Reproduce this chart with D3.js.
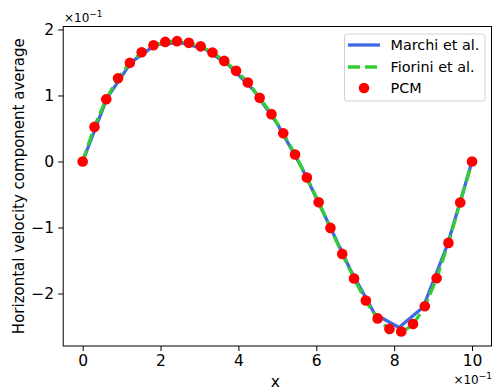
<!DOCTYPE html>
<html>
<head>
<meta charset="utf-8">
<script src="https://cdn.jsdelivr.net/npm/d3@7"></script>
<style>
  body { margin: 0; background: #fff; }
  svg { display: block; font-family: "DejaVu Sans", sans-serif; }
</style>
</head>
<body>
<script>
// PCM samples, x = i/33 (values in units of the axis, i.e. already x1)
const pcmX = d3.range(34).map(i => i / 33);
const pcmY = [0, 0.0524, 0.0944, 0.1262, 0.1494, 0.1656, 0.1762, 0.1812, 0.1823, 0.1797,
  0.1744, 0.1652, 0.1524, 0.1373, 0.1197, 0.0964, 0.0717, 0.0429, 0.0106, -0.0242,
  -0.0617, -0.1006, -0.1400, -0.1773, -0.2106, -0.2377, -0.2536, -0.2576, -0.2461, -0.2192,
  -0.1768, -0.1233, -0.0621, 0];

// Marchi et al. (coarser grid, 1/16)
const marchiX = d3.range(17).map(k => k / 16);
const marchiY = [0, 0.0960, 0.1505, 0.1770, 0.1800, 0.1710, 0.1460, 0.1090, 0.0570,
  -0.0090, -0.0860, -0.1640, -0.2310, -0.2515, -0.2203, -0.1250, 0];

// Fiorini et al.
const fioriniX = pcmX;
const fioriniY = [0, 0.0530, 0.0950, 0.1265, 0.1495, 0.1655, 0.1760, 0.1810, 0.1822, 0.1797,
  0.1745, 0.1653, 0.1525, 0.1375, 0.1198, 0.0966, 0.0718, 0.0430, 0.0106, -0.0242,
  -0.0617, -0.1006, -0.1400, -0.1775, -0.2110, -0.2385, -0.2545, -0.2590, -0.2470, -0.2200,
  -0.1770, -0.1233, -0.0621, 0];

const xTicks = [0, 0.2, 0.4, 0.6, 0.8, 1.0];
const xTickLabels = ["0", "2", "4", "6", "8", "10"];
const yTicks = [-0.2, -0.1, 0, 0.1, 0.2];
const yTickLabels = ["\u22122", "\u22121", "0", "1", "2"];

const W = 492, H = 392;
const m = { left: 63.2, right: 491.5, top: 26.5, bottom: 346 };

const svg = d3.select("body").append("svg")
  .attr("width", W).attr("height", H);

const x = d3.scaleLinear().domain([-0.05, 1.05]).range([m.left, m.right]);
const y = d3.scaleLinear().domain([-0.2795, 0.2045]).range([m.bottom, m.top]);

// clip for plot area
svg.append("clipPath").attr("id", "clip")
  .append("rect").attr("x", m.left).attr("y", m.top)
  .attr("width", m.right - m.left).attr("height", m.bottom - m.top);

const plot = svg.append("g").attr("clip-path", "url(#clip)");

const line = d3.line().x(d => x(d[0])).y(d => y(d[1]));

plot.append("path")
  .datum(d3.zip(marchiX, marchiY))
  .attr("d", line)
  .attr("fill", "none")
  .attr("stroke", "#4169e1")
  .attr("stroke-width", 3.3)
  .attr("stroke-linejoin", "round");

plot.append("path")
  .datum(d3.zip(fioriniX, fioriniY))
  .attr("d", line)
  .attr("fill", "none")
  .attr("stroke", "#32cd32")
  .attr("stroke-width", 3.3)
  .attr("stroke-dasharray", "12,5");

svg.selectAll(".pcm")
  .data(d3.zip(pcmX, pcmY))
  .enter().append("circle")
  .attr("class", "pcm")
  .attr("cx", d => x(d[0]))
  .attr("cy", d => y(d[1]))
  .attr("r", 5.3)
  .attr("fill", "#ff0000");

// frame
svg.append("rect")
  .attr("x", m.left).attr("y", m.top)
  .attr("width", m.right - m.left).attr("height", m.bottom - m.top)
  .attr("fill", "none").attr("stroke", "#000").attr("stroke-width", 1);

// axes
const xAxis = d3.axisBottom(x).tickValues(xTicks)
  .tickFormat((d, i) => xTickLabels[i]).tickSize(5).tickPadding(4);
const gx = svg.append("g").attr("transform", `translate(0,${m.bottom})`).call(xAxis);
gx.select(".domain").remove();
gx.selectAll("text").attr("font-size", 15.5).attr("fill", "#000")
  .attr("font-family", "DejaVu Sans");

const yAxis = d3.axisLeft(y).tickValues(yTicks)
  .tickFormat((d, i) => yTickLabels[i]).tickSize(5).tickPadding(4);
const gy = svg.append("g").attr("transform", `translate(${m.left},0)`).call(yAxis);
gy.select(".domain").remove();
gy.selectAll("text").attr("font-size", 15.5).attr("fill", "#000")
  .attr("font-family", "DejaVu Sans");

// axis labels
svg.append("text")
  .attr("x", (m.left + m.right) / 2 - 2).attr("y", 387)
  .attr("text-anchor", "middle").attr("font-size", 15.5)
  .text("x");

svg.append("text")
  .attr("transform", `translate(24,${(m.top + m.bottom) / 2}) rotate(-90)`)
  .attr("text-anchor", "middle").attr("font-size", 15)
  .text("Horizontal velocity component average");

// offset texts
function offsetText(xp, yp, anchor) {
  const t = svg.append("text").attr("x", xp).attr("y", yp)
    .attr("font-size", 12).attr("text-anchor", anchor);
  t.append("tspan").text("\u00d710");
  t.append("tspan").attr("dy", -5).attr("font-size", 9).text("\u22121");
}
offsetText(64, 22, "start");
offsetText(492, 384, "end");

// legend
const lg = svg.append("g");
lg.append("rect")
  .attr("x", 344.5).attr("y", 34).attr("width", 140.5).attr("height", 67)
  .attr("rx", 2.5)
  .attr("fill", "#fff").attr("fill-opacity", 0.8)
  .attr("stroke", "#d0d0d0").attr("stroke-width", 1);

const legendItems = [
  { label: "Marchi et al.", kind: "solid", color: "#4169e1", y: 45 },
  { label: "Fiorini et al.", kind: "dash", color: "#32cd32", y: 67 },
  { label: "PCM", kind: "dot", color: "#ff0000", y: 88 }
];
legendItems.forEach(it => {
  if (it.kind === "dot") {
    lg.append("circle").attr("cx", 364).attr("cy", it.y).attr("r", 5.3).attr("fill", it.color);
  } else {
    lg.append("line").attr("x1", 348).attr("x2", 380)
      .attr("y1", it.y).attr("y2", it.y)
      .attr("stroke", it.color).attr("stroke-width", 3.3)
      .attr("stroke-dasharray", it.kind === "dash" ? "12,5" : null);
  }
  lg.append("text").attr("x", 390.5).attr("y", it.y + 5)
    .attr("font-size", 14.4).text(it.label);
});
</script>
</body>
</html>
